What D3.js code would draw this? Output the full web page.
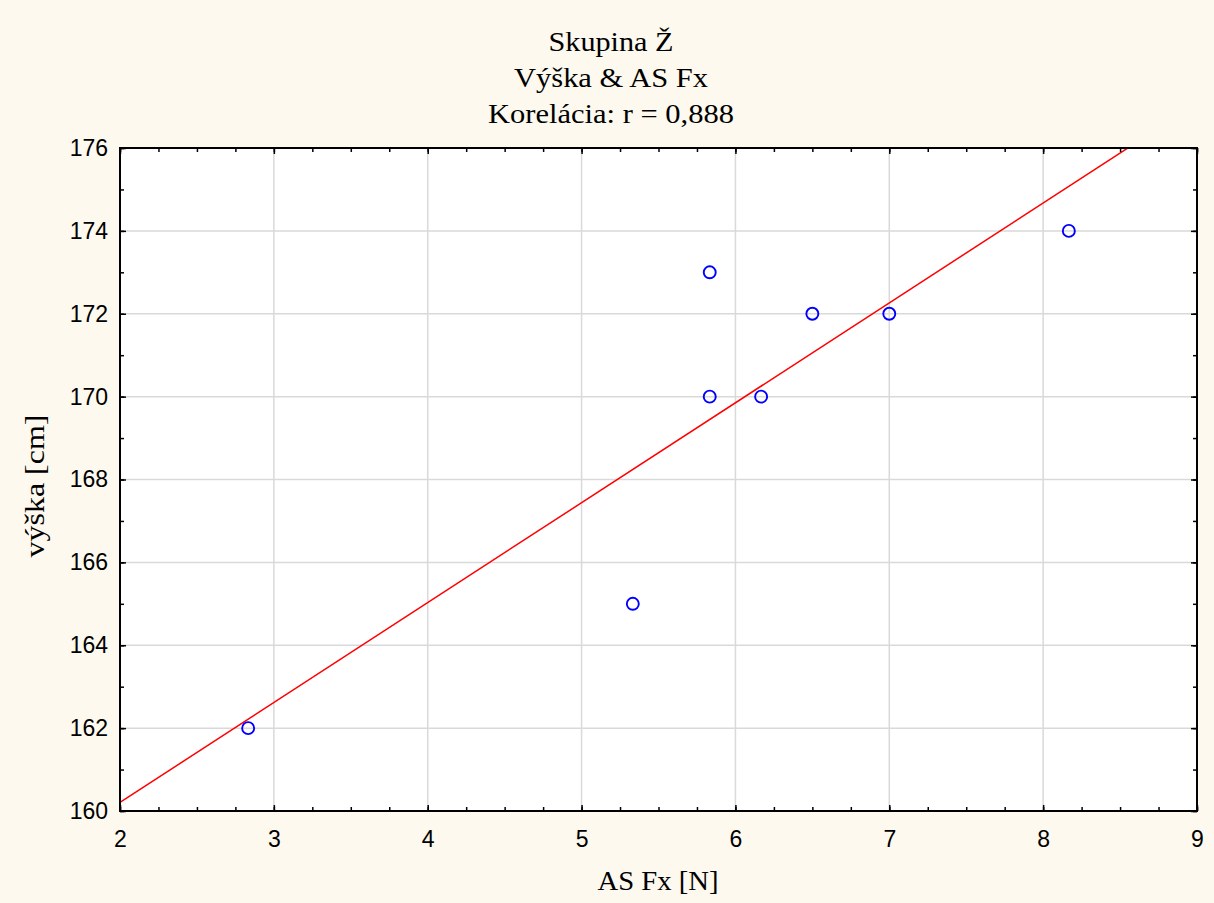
<!DOCTYPE html>
<html>
<head>
<meta charset="utf-8">
<script src="https://cdn.jsdelivr.net/npm/d3@7"></script>
<style>
  html, body { margin: 0; padding: 0; background: #fdf9ef; }
  svg { display: block; }
  .tick text { font-family: "Liberation Sans", Arial, sans-serif; font-size: 23px; fill: #000; }
  .ttl { font-family: "Liberation Serif", "Times New Roman", serif; font-size: 28px; fill: #000; }
</style>
</head>
<body>
<div id="chart"></div>
<script>
'use strict';

// data
var titleLines = ['Skupina Ž', 'Výška & AS Fx', 'Korelácia: r = 0,888'];
var titleWidths = [125, 194, 246];   // measured widths of the source text
var xLabel = 'AS Fx [N]';
var yLabel = 'výška [cm]';
var asFx = [2.833, 5.333, 5.833, 5.833, 6.167, 6.5, 7.0, 8.167];
var vyska = [162, 165, 173, 170, 170, 172, 172, 174];
var xTicks = [2, 3, 4, 5, 6, 7, 8, 9];
var yTicks = [160, 162, 164, 166, 168, 170, 172, 174, 176];

var W = 1214, H = 903;
var margin = {top: 148, right: 17, bottom: 92, left: 120},
    width = W - margin.left - margin.right,
    height = H - margin.top - margin.bottom;

var svg = d3.select('#chart').append('svg')
    .attr('width', W)
    .attr('height', H);

svg.append('rect').attr('width', W).attr('height', H).attr('fill', '#fdf9ef');

var g = svg.append('g')
    .attr('transform', 'translate(' + margin.left + ',' + margin.top + ')');

var x = d3.scaleLinear().domain([2, 9]).range([0, width]);
var y = d3.scaleLinear().domain([160, 176]).range([height, 0]);

g.append('rect').attr('width', width).attr('height', height).attr('fill', '#fff');

// grid
g.selectAll('line.gx')
    .data(xTicks.slice(1, -1))
    .enter().append('line')
    .attr('class', 'gx')
    .attr('x1', function(d) { return x(d); }).attr('x2', function(d) { return x(d); })
    .attr('y1', 0).attr('y2', height)
    .attr('stroke', '#d9d9d9').attr('stroke-width', 1.5);
g.selectAll('line.gy')
    .data(yTicks.slice(1, -1))
    .enter().append('line')
    .attr('class', 'gy')
    .attr('y1', function(d) { return y(d); }).attr('y2', function(d) { return y(d); })
    .attr('x1', 0).attr('x2', width)
    .attr('stroke', '#d9d9d9').attr('stroke-width', 1.5);

// regression line from the data
var mx = d3.mean(asFx), my = d3.mean(vyska);
var sxy = d3.sum(asFx, function(v, i) { return (v - mx) * (vyska[i] - my); });
var sxx = d3.sum(asFx, function(v) { return (v - mx) * (v - mx); });
var slope = sxy / sxx, icpt = my - slope * mx;

g.append('clipPath').attr('id', 'clip')
  .append('rect').attr('width', width).attr('height', height);

g.append('line')
    .attr('clip-path', 'url(#clip)')
    .attr('x1', x(2)).attr('y1', y(icpt + slope * 2))
    .attr('x2', x(9)).attr('y2', y(icpt + slope * 9))
    .attr('stroke', '#ff0000').attr('stroke-width', 1.5);

// points
g.selectAll('circle.pt')
    .data(asFx)
    .enter().append('circle')
    .attr('class', 'pt')
    .attr('cx', function(d) { return x(d); })
    .attr('cy', function(d, i) { return y(vyska[i]); })
    .attr('r', 6)
    .attr('fill', 'none')
    .attr('stroke', '#0000ff')
    .attr('stroke-width', 1.9);

// axes: inward ticks on all sides
var fmt = d3.format('d');
var xMinor = d3.range(2, 9.001, 0.25), yMinor = d3.range(160, 176.001, 1);

function minor(axis, sc, vals) {
  return axis(sc).tickValues(vals).tickSize(-4).tickFormat('');
}

g.append('g').attr('transform', 'translate(0,' + height + ')')
    .call(minor(d3.axisBottom, x, xMinor));
g.append('g').call(minor(d3.axisTop, x, xMinor));
g.append('g').call(minor(d3.axisLeft, y, yMinor));
g.append('g').attr('transform', 'translate(' + width + ',0)')
    .call(minor(d3.axisRight, y, yMinor));

g.append('g').attr('transform', 'translate(0,' + height + ')')
    .call(d3.axisBottom(x).tickValues(xTicks).tickSize(-6).tickPadding(20).tickFormat(fmt));
g.append('g')
    .call(d3.axisLeft(y).tickValues(yTicks).tickSize(-6).tickPadding(12).tickFormat(fmt));
g.append('g').attr('transform', 'translate(' + width + ',0)')
    .call(d3.axisRight(y).tickValues(yTicks).tickSize(-6).tickFormat(''));
g.append('g')
    .call(d3.axisTop(x).tickValues(xTicks).tickSize(-6).tickFormat(''));

g.selectAll('.domain').remove();
g.selectAll('.tick line').attr('stroke', '#000').attr('stroke-width', 1.5);

// frame
g.append('rect').attr('width', width).attr('height', height)
    .attr('fill', 'none').attr('stroke', '#000').attr('stroke-width', 2);

// titles
svg.selectAll('text.head')
    .data(titleLines)
    .enter().append('text')
    .attr('class', 'ttl head')
    .attr('x', 611)
    .attr('y', function(d, i) { return 51 + i * 36; })
    .attr('text-anchor', 'middle')
    .attr('textLength', function(d, i) { return titleWidths[i]; })
    .attr('lengthAdjust', 'spacingAndGlyphs')
    .text(function(d) { return d; });

svg.append('text').attr('class', 'ttl')
    .attr('x', 658).attr('y', 890)
    .attr('text-anchor', 'middle')
    .attr('textLength', 121)
    .attr('lengthAdjust', 'spacingAndGlyphs')
    .text(xLabel);

svg.append('text').attr('class', 'ttl')
    .attr('transform', 'translate(44,486) rotate(-90)')
    .attr('text-anchor', 'middle')
    .attr('textLength', 143)
    .attr('lengthAdjust', 'spacingAndGlyphs')
    .text(yLabel);
</script>
</body>
</html>
